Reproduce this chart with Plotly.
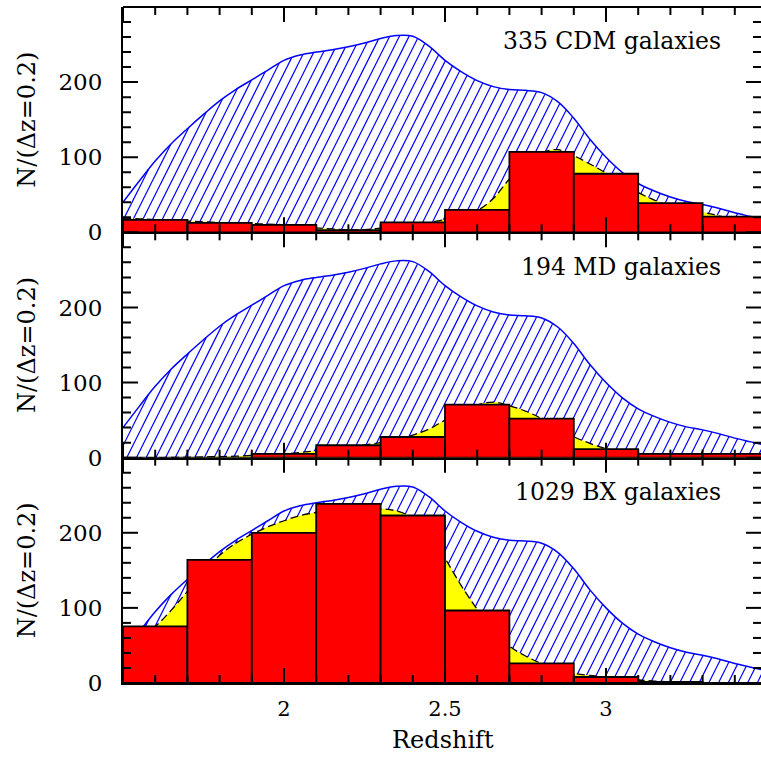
import numpy as np
import plotly.graph_objects as go
from plotly.subplots import make_subplots

# ---------------------------------------------------------------- data
# redshift grid on which the smooth distributions are tabulated
z_grid = [1.50, 1.55, 1.60, 1.65, 1.70, 1.75, 1.80, 1.85, 1.90, 1.95,
          2.00, 2.05, 2.10, 2.15, 2.20, 2.25, 2.30, 2.35, 2.40, 2.45,
          2.50, 2.55, 2.60, 2.65, 2.70, 2.75, 2.80, 2.85, 2.90, 2.95,
          3.00, 3.05, 3.10, 3.15, 3.20, 3.25, 3.30, 3.35, 3.40, 3.45, 3.50]

# full parent sample (hatched envelope, identical in each panel)
parent_curve = [40, 68, 95, 118, 138, 157, 175, 190, 203, 216,
                229, 236, 240, 243, 247, 252, 258, 262, 261, 248,
                229, 214, 202, 194, 190, 189, 186, 174, 152, 124,
                100, 80, 65, 55, 47, 41, 37, 32, 26, 21, 16]

# smoothed distribution of each sub-sample
cdm_curve = [18, 18, 17, 16, 15, 14, 13, 12, 11.5, 11,
             10, 8, 6, 4.5, 3.5, 3.5, 5.5, 7.5, 10, 13,
             17, 22, 29, 45, 71, 92, 106, 110, 102, 91,
             79, 66, 53, 43, 35, 30, 27, 22, 19, 17, 15]
md_curve = [0, 0, 0, 0.3, 0.5, 1, 1.5, 2, 3, 4,
            5, 7, 9, 11, 14, 17, 20, 24, 30, 38,
            50, 61, 70, 74, 69, 62, 52, 40, 28, 19,
            12, 8, 5, 4, 4, 4, 4, 3.5, 3, 3, 3]
bx_curve = [45, 58, 75, 97, 122, 147, 170, 186, 198, 208,
            216, 223, 227, 230, 232, 233, 232, 229, 220, 200,
            166, 130, 98, 70, 49, 36, 26, 19, 13, 10,
            8, 6, 4, 2.5, 1.5, 1, 0.5, 0, 0, 0, 0]

# histogram bins (dz = 0.2)
bin_edges = [1.5, 1.7, 1.9, 2.1, 2.3, 2.5, 2.7, 2.9, 3.1, 3.3, 3.5]
cdm_counts = [16.5, 12.5, 10, 3, 13.3, 30, 107, 78, 39, 21]
md_counts = [0, 0, 5, 16.5, 27.5, 70.5, 52, 11.5, 5, 5]
bx_counts = [75.5, 164, 200, 238.5, 223, 96.5, 26, 8, 1.5, 0]

panel_labels = ["335 CDM galaxies", "194 MD galaxies", "1029 BX galaxies"]
x_tick_vals = [2, 2.5, 3]
x_tick_text = ["2", "2.5", "3"]
y_tick_vals = [0, 100, 200]
y_tick_text = ["0", "100", "200"]

# tick mark spacing (major / minor)
X_MAJOR, X_MINOR = 0.5, 0.1
Y_MAJOR, Y_MINOR = 100, 20

# ---------------------------------------------------------------- layout geometry
W, H = 761, 757
M_L, M_R, M_T, M_B = 123, 0, 7, 74
PLOT_W = W - M_L - M_R
PLOT_H = H - M_T - M_B
PANEL_H = PLOT_H / 3
PX_PER_Z = 322.0
X_RANGE = [1.5, 1.5 + PLOT_W / PX_PER_Z]
Y_RANGE = [0, 300]
PX_PER_N = PANEL_H / (Y_RANGE[1] - Y_RANGE[0])
MAJOR_LEN, MINOR_LEN, TICK_W = 15, 8, 2

FONT = "DejaVu Serif"
BLUE = "#0000ff"


def paper_x(px):
    return (px - M_L) / PLOT_W


def paper_y(py):
    return 1 - (py - M_T) / PLOT_H


def hatch_segments(zs, curve, spacing_px=9.7, steep=2.0):
    """Diagonal hatch lines filling the region below a curve."""
    zs = np.asarray(zs, float)
    curve = np.asarray(curve, float)
    k = steep * PX_PER_Z / PX_PER_N          # dN per dz along a hatch line
    spacing = spacing_px / PX_PER_Z
    ys = np.linspace(0, Y_RANGE[1], 1201)
    hx, hy = [], []
    x0 = X_RANGE[0] - Y_RANGE[1] / k
    while x0 < X_RANGE[1] + spacing:
        xs = x0 + ys / k
        f = np.interp(xs, zs, curve)
        outside = np.nonzero(ys >= f)[0]
        i_end = outside[0] if len(outside) else len(ys) - 1
        if i_end > 0:
            ya, yb = ys[i_end - 1], ys[i_end]
            da, db = ya - f[i_end - 1], yb - f[i_end]
            t = da / (da - db) if da != db else 1.0
            ye = ya + t * (yb - ya)
            hx += [x0, x0 + ye / k, None]
            hy += [0, ye, None]
        x0 += spacing
    return hx, hy


fig = make_subplots(rows=3, cols=1, shared_xaxes=True, vertical_spacing=0)

hx, hy = hatch_segments(z_grid, parent_curve)

for row, (curve, counts) in enumerate(
        [(cdm_curve, cdm_counts), (md_curve, md_counts), (bx_curve, bx_counts)], start=1):
    # hatched parent distribution
    fig.add_trace(go.Scatter(x=hx, y=hy, mode="lines",
                             line=dict(color=BLUE, width=1.2),
                             hoverinfo="skip", showlegend=False), row=row, col=1)
    fig.add_trace(go.Scatter(x=z_grid, y=parent_curve, mode="lines",
                             line=dict(color=BLUE, width=1.5, shape="spline", smoothing=1.0),
                             showlegend=False), row=row, col=1)
    # smoothed sub-sample distribution
    fig.add_trace(go.Scatter(x=z_grid, y=curve, mode="lines", fill="tozeroy",
                             fillcolor="#ffff00",
                             line=dict(color="black", width=1.3, dash="8px,4px",
                                       shape="spline", smoothing=1.0),
                             showlegend=False), row=row, col=1)
    # histogram: one outlined rectangle per bin
    for lo, hi, n in zip(bin_edges[:-1], bin_edges[1:], counts):
        fig.add_trace(go.Scatter(x=[lo, lo, hi, hi, lo], y=[0, n, n, 0, 0],
                                 mode="lines", fill="toself", fillcolor="#ff0000",
                                 line=dict(color="black", width=1.8),
                                 showlegend=False), row=row, col=1)

for row in (1, 2, 3):
    fig.update_xaxes(range=X_RANGE, showgrid=False, zeroline=False, ticks="",
                     showline=True, linecolor="black", linewidth=2, mirror=False,
                     tickmode="array", tickvals=x_tick_vals, ticktext=x_tick_text,
                     showticklabels=(row == 3),
                     tickfont=dict(family=FONT, size=21, color="black"),
                     ticklabelstandoff=6, row=row, col=1)
    fig.update_yaxes(range=Y_RANGE, showgrid=False, zeroline=False, ticks="",
                     showline=True, linecolor="black", linewidth=2, mirror=False,
                     tickmode="array", tickvals=y_tick_vals, ticktext=y_tick_text,
                     tickfont=dict(family=FONT, size=23, color="black"),
                     ticklabelstandoff=14, row=row, col=1)

# ---------------------------------------------------------------- inward tick marks on all sides
shapes = []
tick_line = dict(color="black", width=TICK_W)
n_x = int(round((3.5 - 1.5) / X_MINOR))
n_y = int(round((Y_RANGE[1] - Y_RANGE[0]) / Y_MINOR))
for row in (1, 2, 3):
    sfx = "" if row == 1 else str(row)
    for i in range(n_x + 1):
        xv = 1.5 + i * X_MINOR
        is_major = abs(xv / X_MAJOR - round(xv / X_MAJOR)) < 1e-6
        frac = (MAJOR_LEN if is_major else MINOR_LEN) / PANEL_H
        for base, tip in ((0, frac), (1, 1 - frac)):
            shapes.append(dict(type="line", xref="x" + sfx, yref="y" + sfx + " domain",
                               x0=xv, x1=xv, y0=base, y1=tip,
                               line=tick_line, layer="above"))
    for j in range(n_y + 1):
        yv = Y_RANGE[0] + j * Y_MINOR
        frac = (MAJOR_LEN if yv % Y_MAJOR == 0 else MINOR_LEN) / PLOT_W
        for base, tip in ((0, frac), (1, 1 - frac)):
            shapes.append(dict(type="line", xref="x" + sfx + " domain", yref="y" + sfx,
                               x0=base, x1=tip, y0=yv, y1=yv,
                               line=tick_line, layer="above"))
# top edge of the upper panel
shapes.append(dict(type="line", xref="paper", yref="paper", x0=0, x1=1, y0=1, y1=1,
                   line=dict(color="black", width=2), layer="above"))

annotations = []
panel_top_px = [M_T + i * PANEL_H for i in range(3)]
for i, lab in enumerate(panel_labels):
    annotations.append(dict(text=lab, xref="paper", yref="paper",
                            x=paper_x(723), y=paper_y(panel_top_px[i] + 34.5),
                            xanchor="right", yanchor="middle", showarrow=False,
                            font=dict(family=FONT, size=23.5, color="black")))
    annotations.append(dict(text="N/(Δz=0.2)", xref="paper", yref="paper",
                            x=paper_x(27), y=paper_y(panel_top_px[i] + PANEL_H / 2),
                            xanchor="center", yanchor="middle", textangle=-90,
                            showarrow=False,
                            font=dict(family=FONT, size=24, color="black")))
annotations.append(dict(text="Redshift", xref="paper", yref="paper",
                        x=paper_x(443), y=paper_y(740),
                        xanchor="center", yanchor="middle", showarrow=False,
                        font=dict(family=FONT, size=24, color="black")))

fig.update_layout(width=W, height=H,
                  margin=dict(l=M_L, r=M_R, t=M_T, b=M_B, pad=0),
                  paper_bgcolor="white", plot_bgcolor="white",
                  annotations=annotations, shapes=shapes,
                  font=dict(family=FONT, color="black"))

fig.write_html("out.html")
